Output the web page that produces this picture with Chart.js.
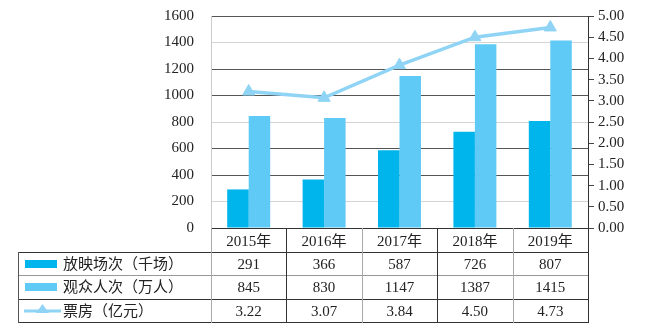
<!DOCTYPE html>
<html><head><meta charset="utf-8">
<script src="https://cdn.jsdelivr.net/npm/chart.js@4/dist/chart.umd.min.js"></script>
<style>
html,body{margin:0;padding:0;background:#fff;}
#wrap{position:relative;width:660px;height:330px;}
.cell{position:absolute;font-family:'Liberation Serif','Noto Sans CJK SC',serif;font-size:15px;color:#222;line-height:16px;white-space:nowrap;}
</style>
</head><body>
<div id="wrap"><canvas id="c" width="660" height="330"></canvas></div>
<script>
const categories = ['2015年','2016年','2017年','2018年','2019年'];
const screenings = [291, 366, 587, 726, 807];
const audience = [845, 830, 1147, 1387, 1415];
const boxOffice = [3.22, 3.07, 3.84, 4.50, 4.73];
const seriesNames = ['放映场次（千场）','观众人次（万人）','票房（亿元）'];
const leftTicks = [0,200,400,600,800,1000,1200,1400,1600];
const rightTicks = [0,0.5,1,1.5,2,2.5,3,3.5,4,4.5,5];

const C_DARK = '#00B4EC', C_LIGHT = '#5FCAF5', C_LINE = '#8FD4F5';
const FONT = "'Liberation Serif','Noto Sans CJK SC',serif";
const darkGrid = new Set([400,600,1000,1200,1600]);
const rows = [screenings.map(String), audience.map(String), boxOffice.map(v=>v.toFixed(2))];
const rowY = [252, 275, 299, 322];

const tablePlugin = {
  id:'tablePlugin',
  afterDraw(chart){
    const ctx = chart.ctx, a = chart.chartArea;
    const n = categories.length, w = (a.right-a.left)/n;
    ctx.save();
    rowY.forEach((y,i)=>{
      ctx.strokeStyle = i===1 ? '#999' : '#333';
      ctx.lineWidth = 1;
      ctx.beginPath(); ctx.moveTo(18, y+0.5); ctx.lineTo(a.right, y+0.5); ctx.stroke();
    });
    ctx.strokeStyle = '#555';
    ctx.beginPath(); ctx.moveTo(18.5, rowY[0]); ctx.lineTo(18.5, rowY[3]+1); ctx.stroke();
    for(let i=0;i<=n;i++){
      const x = Math.round(a.left + i*w)+0.5;
      ctx.strokeStyle = (i%2===0 && i!==n) ? '#aaa' : '#333';
      ctx.beginPath(); ctx.moveTo(x, a.bottom); ctx.lineTo(x, rowY[3]+1); ctx.stroke();
    }
    ctx.fillStyle = C_DARK; ctx.fillRect(25, 260, 32, 8);
    ctx.fillStyle = C_LIGHT; ctx.fillRect(25, 283, 32, 8);
    ctx.strokeStyle = C_LINE; ctx.lineWidth = 3;
    ctx.beginPath(); ctx.moveTo(24, 311); ctx.lineTo(61, 311); ctx.stroke();
    ctx.fillStyle = C_LINE;
    ctx.beginPath(); ctx.moveTo(42.5, 304); ctx.lineTo(49, 313); ctx.lineTo(36, 313); ctx.closePath(); ctx.fill();
    ctx.restore();
  }
};

function fitV(w){ return function(s){ s.width = w; s.paddingTop = 0; s.paddingBottom = 0; }; }

const chart = new Chart(document.getElementById('c'), {
  data:{
    labels: categories,
    datasets:[
      {type:'line', label:seriesNames[2], data:boxOffice, yAxisID:'y1', order:0,
       borderColor:C_LINE, backgroundColor:C_LINE, borderWidth:3.5, pointStyle:'triangle',
       pointRadius:7, pointBorderWidth:1, pointBackgroundColor:C_LINE, pointBorderColor:C_LINE, tension:0},
      {type:'bar', label:seriesNames[0], data:screenings, yAxisID:'y', order:1,
       backgroundColor:C_DARK, categoryPercentage:0.57, barPercentage:1},
      {type:'bar', label:seriesNames[1], data:audience, yAxisID:'y', order:1,
       backgroundColor:C_LIGHT, categoryPercentage:0.57, barPercentage:1}
    ]
  },
  options:{
    responsive:false, animation:false,
    layout:{padding:{top:16,left:0,right:0,bottom:0}},
    plugins:{legend:{display:false}, tooltip:{enabled:false}},
    scales:{
      x:{
        afterFit(s){ s.height = 102; s.paddingLeft = 0; s.paddingRight = 0; },
        grid:{drawOnChartArea:false, drawTicks:false},
        border:{color:'#333'},
        ticks:{padding:5, color:'#222', font:{family:FONT, size:15}}
      },
      y:{
        position:'left', min:0, max:1600,
        afterFit: fitV(211),
        afterBuildTicks(s){ s.ticks = leftTicks.map(v=>({value:v})); },
        grid:{drawTicks:false, color:(c)=> darkGrid.has(c.tick && c.tick.value) ? '#555' : '#d4d4d4'},
        border:{color:'#ccc'},
        ticks:{padding:17, autoSkip:false, color:'#222', font:{family:FONT, size:15}, callback:(v)=>String(v)}
      },
      y1:{
        position:'right', min:0, max:5,
        afterFit: fitV(72),
        afterBuildTicks(s){ s.ticks = rightTicks.map(v=>({value:v})); },
        grid:{drawOnChartArea:false, drawTicks:true, tickLength:6, color:'#444'},
        border:{color:'#333'},
        ticks:{padding:4, autoSkip:false, color:'#222', font:{family:FONT, size:15}, callback:(v)=>Number(v).toFixed(2)}
      }
    }
  },
  plugins:[tablePlugin]
});

const wrap = document.getElementById('wrap');
const xs = chart.scales.x;
seriesNames.forEach((name,r)=>{
  const cy = (rowY[r]+rowY[r+1])/2;
  const d = document.createElement('div');
  d.className='cell'; d.textContent = name;
  d.style.left = '63px'; d.style.top = (cy-8)+'px';
  wrap.appendChild(d);
  rows[r].forEach((t,i)=>{
    const e = document.createElement('div');
    e.className='cell'; e.textContent = t;
    e.style.left = (xs.getPixelForValue(i)-40)+'px'; e.style.width='80px'; e.style.textAlign='center';
    e.style.top = (cy-8)+'px';
    wrap.appendChild(e);
  });
});
</script>
</body></html>
